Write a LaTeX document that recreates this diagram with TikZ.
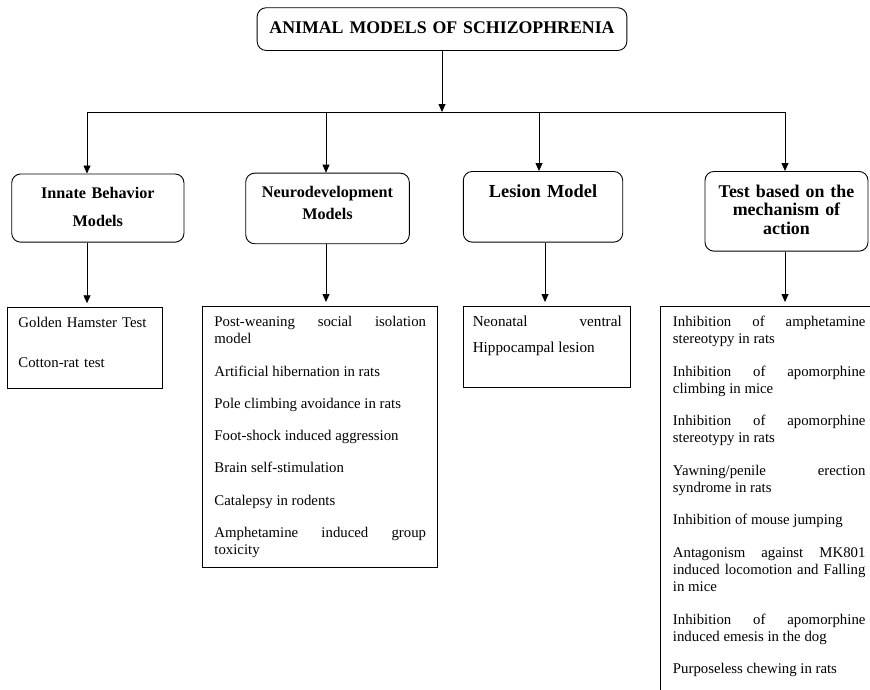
\documentclass[tikz,border=0pt]{standalone}
\usepackage{fontspec}
\setmainfont{Liberation Serif}
\usetikzlibrary{arrows.meta}

\begin{document}
\begin{tikzpicture}[x=1pt, y=-1pt,
		arr/.style={-{Triangle[length=8pt,width=7pt]}, line width=0.8pt},
		group/.style={draw, rounded corners=9pt, line width=0.9pt, inner sep=0pt, anchor=north, align=center},
		list/.style={draw, line width=0.9pt, inner ysep=0pt, anchor=north west, text height=20pt, align=justify,
			font=\fontsize{14.8}{17.3}\selectfont, execute at begin node={\setlength{\parskip}{15pt}}}]
	\useasboundingbox (0,0) rectangle (870,689);
	\coordinate (rim) at (870,0);

	% top of the tree
	\node[group, text width=369.7pt, text height=26pt, text depth=16.7pt,
		font=\fontsize{17.8}{20}\selectfont\bfseries] (title) at (442,7.3) {ANIMAL MODELS OF SCHIZOPHRENIA};

	\coordinate (b0) at (442,112);
	\coordinate (b1) at (87,112);
	\coordinate (b2) at (326,112);
	\coordinate (b3) at (539,112);
	\coordinate (b4) at (785,112);
	\coordinate (l3) at (545,0);

	% the four groups
	\node[group, text width=172.3pt, text height=24.5pt, text depth=43.7pt,
		font=\fontsize{16.2}{27.7}\selectfont\bfseries] (innate) at (97.85,173.5) {Innate Behavior\\Models};
	\node[group, text width=163.6pt, text height=24pt, text depth=46.6pt,
		font=\fontsize{16.2}{22.3}\selectfont\bfseries] (neuro) at (327.5,172.7) {Neurodevelopment\\Models};
	\node[group, text width=159.4pt, text height=25.7pt, text depth=45pt,
		font=\fontsize{18.4}{20}\selectfont\bfseries] (lesion) at (543,171) {Lesion Model};
	\node[group, text width=163pt, text height=25.7pt, text depth=54pt,
		font=\fontsize{17.9}{18.7}\selectfont\bfseries] (mech) at (786.5,171) {Test based on the\\mechanism of\\action};

	% the lists of tests
	\node[list, align=left, inner xsep=10.7pt, text width=133.6pt, text height=19.4pt, text depth=61pt,
		font=\fontsize{14.8}{40.6}\selectfont] (golden) at (7.3,307.3) {Golden Hamster Test\\Cotton-rat test};
	\node[list, inner xsep=11.7pt, text width=211.6pt, text depth=241.3pt] (neurolist) at (202.3,306) {
		Post-weaning social isolation\linebreak model\par
		Artificial hibernation in rats\par
		Pole climbing avoidance in rats\par
		Foot-shock induced aggression\par
		Brain self-stimulation\par
		Catalepsy in rodents\par
		Amphetamine induced group\linebreak toxicity};
	\node[list, inner xsep=9pt, text width=149pt, text depth=61.3pt,
		font=\fontsize{15.2}{25.7}\selectfont] (lesionlist) at (463.3,306) {Neonatal ventral\linebreak Hippocampal lesion};
	\node[list, draw=none, inner xsep=12.5pt, text width=192.5pt, text depth=363pt] (mechlist) at (660,306) {
		Inhibition of amphetamine\linebreak stereotypy in rats\par
		Inhibition of apomorphine\linebreak climbing in mice\par
		Inhibition of apomorphine\linebreak stereotypy in rats\par
		Yawning/penile erection\linebreak syndrome in rats\par
		Inhibition of mouse jumping\par
		Antagonism against MK801\linebreak induced locomotion and Falling\linebreak in mice\par
		Inhibition of apomorphine\linebreak induced emesis in the dog\par
		Purposeless chewing in rats};
	\draw[line width=0.9pt] (mechlist.south west) -- (mechlist.north west) -- (mechlist.north west -| rim);

	% connectors
	\draw[arr] (title) -- (b0);
	\draw[line width=0.8pt] (b1) -- (b4);
	\draw[arr] (b1) -- (b1 |- innate.north);
	\draw[arr] (b2) -- (b2 |- neuro.north);
	\draw[arr] (b3) -- (b3 |- lesion.north);
	\draw[arr] (b4) -- (b4 |- mech.north);
	\draw[arr, shorten >=4pt] (innate.south -| b1) -- (b1 |- golden.north);
	\draw[arr, shorten >=4pt] (neuro.south -| b2) -- (b2 |- neurolist.north);
	\draw[arr, shorten >=4pt] (lesion.south -| l3) -- (l3 |- lesionlist.north);
	\draw[arr, shorten >=4pt] (mech.south -| b4) -- (b4 |- mechlist.north);
\end{tikzpicture}
\end{document}
